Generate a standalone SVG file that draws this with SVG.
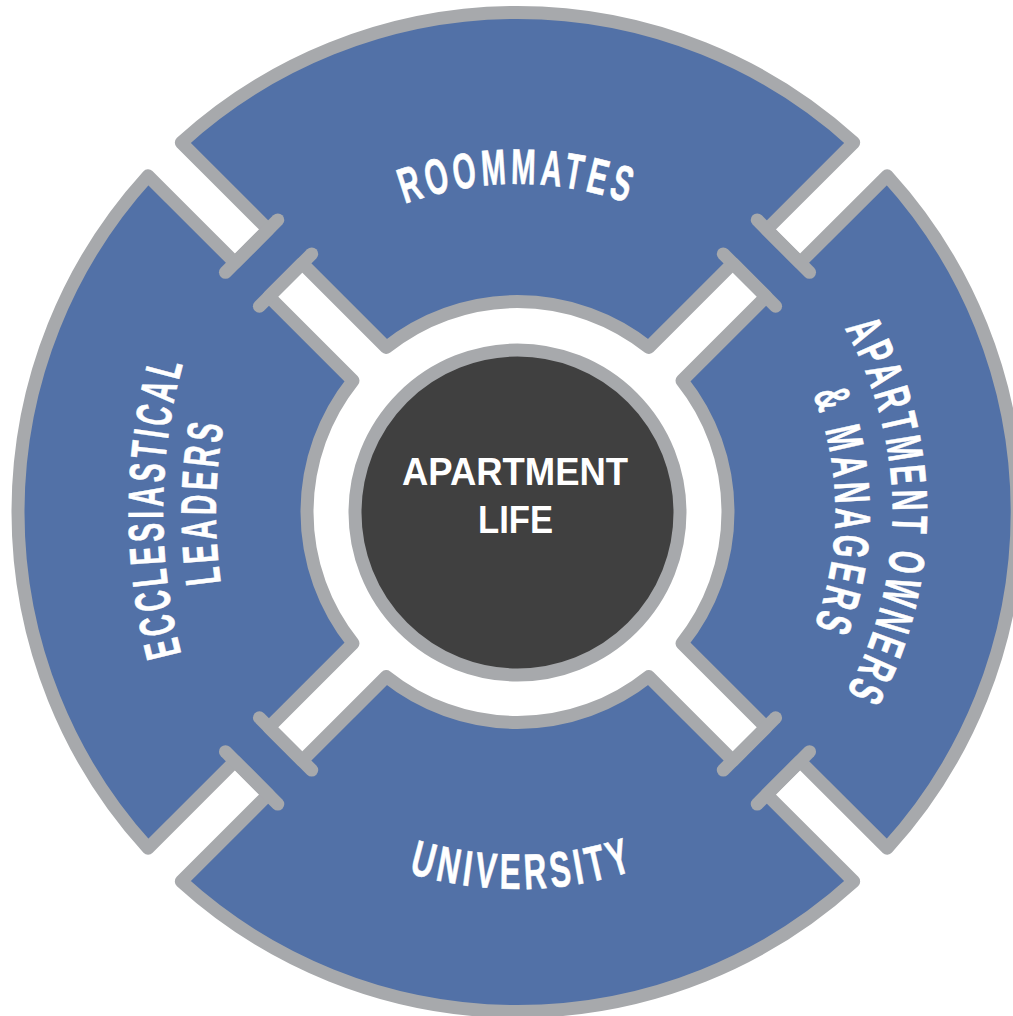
<svg xmlns="http://www.w3.org/2000/svg" width="1013" height="1016" viewBox="0 0 1013 1016">
<defs>
<style>
.ring{fill:#5271a7;stroke:#a7a9ac;stroke-width:13;stroke-linejoin:round}
.hub{fill:#ffffff;stroke:#a7a9ac;stroke-width:13;stroke-linejoin:round}
.cap{fill:none;stroke:#a7a9ac;stroke-width:13;stroke-linecap:round}
.core{fill:#404040;stroke:#a7a9ac;stroke-width:13}
.arc{font-family:"Liberation Sans",Arial,sans-serif;font-weight:700;font-size:50px;fill:#ffffff;stroke:#ffffff;stroke-width:0.6px;letter-spacing:7px;text-anchor:middle}
.ctr{font-family:"Liberation Sans",Arial,sans-serif;font-weight:700;font-size:39px;fill:#ffffff;text-anchor:middle}
</style>
<path id="pTop" d="M209.3,399.8 A328,328 0 0 1 825.7,399.8"/>
<path id="pBottom" d="M163.2,640.9 A377,377 0 0 0 871.8,640.9"/>
<path id="pRight1" d="M645.8,159.6 A375,375 0 0 1 645.8,864.4"/>
<path id="pRight2" d="M626.3,213.2 A318,318 0 0 1 626.3,810.8"/>
<path id="pLeft1" d="M215.5,748.7 A560,560 0 0 1 215.5,275.3"/>
<path id="pLeft2" d="M263.5,726.3 A507,507 0 0 1 263.5,297.7"/>
</defs>
<rect width="1013" height="1016" fill="#ffffff"/>
<g id="ring">
<path class="ring" d="M148.07,175.81 L235.01,262.75 L268.25,229.51 L181.31,142.57 A499.5,499.5 0 0 1 853.69,142.57 L766.75,229.51 L799.99,262.75 L887.13,175.81 A499.5,499.5 0 0 1 887.13,848.19 L799.99,761.25 L766.75,794.49 L853.69,881.43 A499.5,499.5 0 0 1 181.31,881.43 L268.25,794.49 L235.01,761.25 L148.07,848.19 A499.5,499.5 0 0 1 148.07,175.81 Z"/>
<path class="hub" d="M352.97,380.71 L268.95,296.69 L302.19,263.45 L386.21,347.47 A210.5,210.5 0 0 1 648.79,347.47 L732.81,263.45 L766.05,296.69 L682.03,380.71 A210.5,210.5 0 0 1 682.03,643.29 L766.05,727.31 L732.81,760.55 L648.79,676.53 A210.5,210.5 0 0 1 386.21,676.53 L302.19,760.55 L268.95,727.31 L352.97,643.29 A210.5,210.5 0 0 1 352.97,380.71 Z"/>
</g>
<g id="connectors">
<line class="cap" x1="277.79" y1="219.97" x2="225.47" y2="272.29"/>
<line class="cap" x1="311.73" y1="253.91" x2="259.41" y2="306.23"/>
<line class="cap" x1="809.53" y1="272.29" x2="757.21" y2="219.97"/>
<line class="cap" x1="775.59" y1="306.23" x2="723.27" y2="253.91"/>
<line class="cap" x1="757.21" y1="804.03" x2="809.53" y2="751.71"/>
<line class="cap" x1="723.27" y1="770.09" x2="775.59" y2="717.77"/>
<line class="cap" x1="225.47" y1="751.71" x2="277.79" y2="804.03"/>
<line class="cap" x1="259.41" y1="717.77" x2="311.73" y2="770.09"/>
</g>
<g id="node-center">
<circle class="core" cx="517.5" cy="512.5" r="162.5"/>
<text class="ctr" x="515" y="485" textLength="226" lengthAdjust="spacingAndGlyphs">APARTMENT</text>
<text class="ctr" x="515.5" y="533" textLength="75" lengthAdjust="spacingAndGlyphs">LIFE</text>
</g>
<g id="node-roommates">
<text class="arc"><textPath href="#pTop" startOffset="50%" textLength="230" lengthAdjust="spacingAndGlyphs">ROOMMATES</textPath></text>
</g>
<g id="node-owners">
<text class="arc"><textPath href="#pRight1" startOffset="50%" textLength="384" lengthAdjust="spacingAndGlyphs">APARTMENT OWNERS</textPath></text>
<text class="arc"><textPath href="#pRight2" startOffset="50%" textLength="242" lengthAdjust="spacingAndGlyphs">&amp; MANAGERS</textPath></text>
</g>
<g id="node-university">
<text class="arc"><textPath href="#pBottom" startOffset="50.6%" textLength="232" lengthAdjust="spacingAndGlyphs">UNIVERSITY</textPath></text>
</g>
<g id="node-ecclesiastical">
<text class="arc"><textPath href="#pLeft1" startOffset="51%" textLength="297" lengthAdjust="spacingAndGlyphs">ECCLESIASTICAL</textPath></text>
<text class="arc"><textPath href="#pLeft2" startOffset="231" textLength="162" lengthAdjust="spacingAndGlyphs">LEADERS</textPath></text>
</g>
</svg>
